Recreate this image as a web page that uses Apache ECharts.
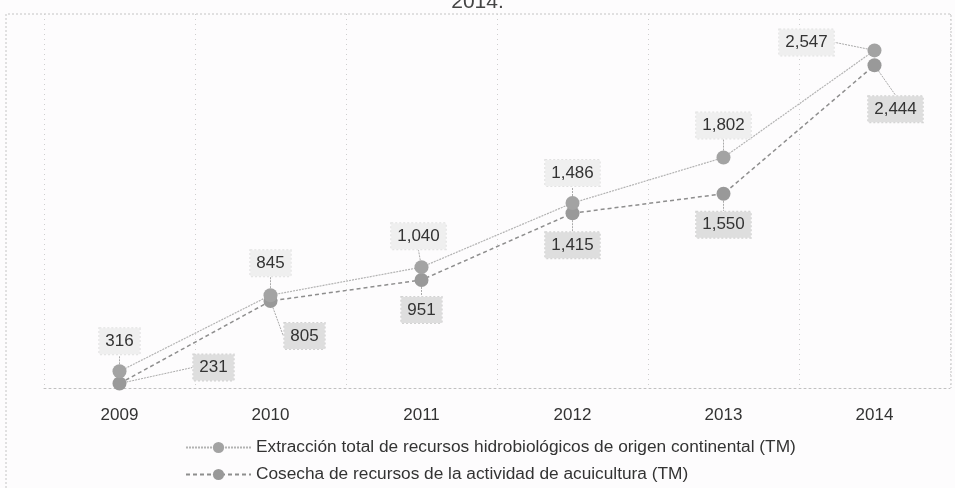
<!DOCTYPE html>
<html>
<head>
<meta charset="utf-8">
<script src="https://cdn.jsdelivr.net/npm/echarts@6/dist/echarts.min.js"></script>
<style>
html,body{margin:0;padding:0;background:#fdfcfd;}
#chart{width:955px;height:488px;}
</style>
</head>
<body>
<div id="chart"></div>
<script>
const categories = ['2009', '2010', '2011', '2012', '2013', '2014'];
const extraccion = [316, 845, 1040, 1486, 1802, 2547];
const cosecha = [231, 805, 951, 1415, 1550, 2444];
const seriesNames = [
  'Extracción total de recursos hidrobiológicos de origen continental (TM)',
  'Cosecha de recursos de la actividad de acuicultura (TM)'
];
const titleText = '2014.';

// label offsets (style only) relative to the point
const extOffsets = [[0, -30], [0, -32], [-3, -31], [0, -30], [0, -32], [-68, -8]];
const cosOffsets = [[94, -16], [34, 35], [0, 30], [0, 32], [0, 31], [21, 44]];

const FONT = "'Liberation Sans', Arial, sans-serif";
const chart = echarts.init(document.getElementById('chart'));

function fmt(v) { return v.toLocaleString('en-US'); }

const legendBase = {
  orient: 'vertical',
  left: 180,
  itemWidth: 65,
  itemHeight: 14,
  textStyle: { color: '#333', fontSize: 17.3, fontFamily: FONT, padding: [0, 0, 0, 0] }
};

chart.setOption({
  backgroundColor: '#fdfcfd',
  animation: false,
  textStyle: { fontFamily: FONT },
  title: {
    text: titleText,
    left: 'center',
    top: -13,
    textStyle: { fontFamily: FONT, fontSize: 21, fontWeight: 'normal', color: '#444' }
  },
  graphic: [
    {
      type: 'polyline',
      shape: { points: [[6, 488], [6, 14], [951, 14], [951, 388]] },
      style: { stroke: '#c4c4c4', lineWidth: 1, lineDash: [2, 2], fill: null },
      silent: true
    }
  ],
  grid: { left: 44, right: 5, top: 14, bottom: 100 },
  xAxis: {
    type: 'category',
    data: categories,
    boundaryGap: true,
    axisLine: { show: true, lineStyle: { color: '#c0c0c0', type: [2, 3] } },
    axisTick: { show: false },
    splitLine: { show: true, lineStyle: { color: '#cfcfcf', type: [1, 4] } },
    axisLabel: { color: '#333', fontSize: 17, fontFamily: FONT, margin: 19 }
  },
  yAxis: {
    type: 'value',
    min: 200,
    max: 2800,
    show: false,
    splitLine: { show: false }
  },
  legend: [
    Object.assign({}, legendBase, { top: 434, data: [seriesNames[0]] }),
    Object.assign({}, legendBase, { top: 461, data: [seriesNames[1]] })
  ],
  series: [
    {
      name: seriesNames[0],
      type: 'line',
      data: extraccion,
      symbol: 'circle',
      symbolSize: 14,
      itemStyle: { color: '#a3a3a3' },
      lineStyle: { color: '#b3b3b3', width: 1.2, type: [2, 1] },
      z: 3,
      label: {
        show: true,
        position: 'inside',
        formatter: p => fmt(p.value),
        color: '#333',
        fontSize: 17,
        fontFamily: FONT,
        backgroundColor: '#efefef',
        borderColor: '#e2e2e2',
        borderWidth: 1,
        borderType: 'dotted',
        padding: [5, 6, 4, 6]
      },
      labelLine: { show: true, lineStyle: { color: '#aaa', width: 1, type: [2, 1] } },
      labelLayout: p => ({ dx: extOffsets[p.dataIndex][0], dy: extOffsets[p.dataIndex][1] })
    },
    {
      name: seriesNames[1],
      type: 'line',
      data: cosecha,
      symbol: 'circle',
      symbolSize: 14,
      itemStyle: { color: '#999999' },
      lineStyle: { color: '#8e8e8e', width: 1.5, type: [4, 3] },
      z: 2,
      label: {
        show: true,
        position: 'inside',
        formatter: p => fmt(p.value),
        color: '#333',
        fontSize: 17,
        fontFamily: FONT,
        backgroundColor: '#dedede',
        borderColor: '#d2d2d2',
        borderWidth: 1,
        borderType: 'dotted',
        padding: [5, 6, 4, 6]
      },
      labelLine: { show: true, lineStyle: { color: '#aaa', width: 1, type: [2, 1] } },
      labelLayout: p => ({ dx: cosOffsets[p.dataIndex][0], dy: cosOffsets[p.dataIndex][1] })
    }
  ]
});
</script>
</body>
</html>
